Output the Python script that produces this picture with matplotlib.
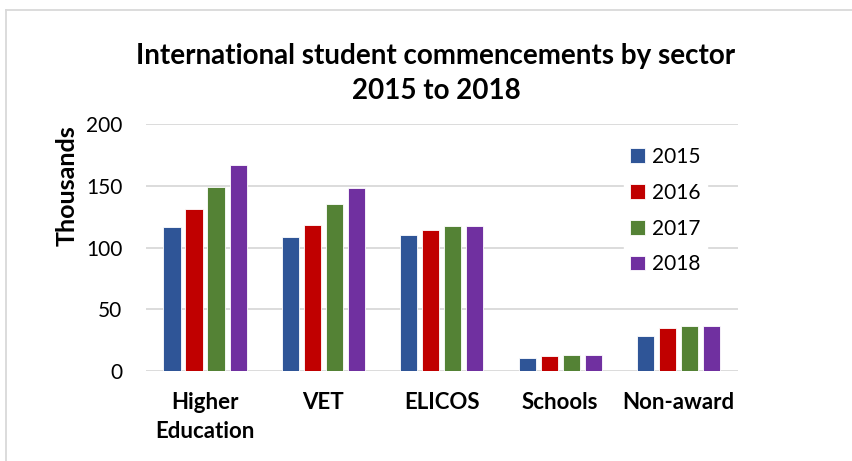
import numpy as np
import matplotlib
matplotlib.use("Agg")
import matplotlib.pyplot as plt
from matplotlib.lines import Line2D

plt.rcParams['font.family'] = ['Lato', 'DejaVu Sans']

categories = ["Higher\nEducation", "VET", "ELICOS", "Schools", "Non-award"]
years = ["2015", "2016", "2017", "2018"]
v2015 = [116.4, 108.5, 110.1, 10.5, 28.6]
v2016 = [130.9, 118.0, 114.2, 12.1, 34.5]
v2017 = [148.7, 135.5, 117.2, 13.0, 36.4]
v2018 = [166.6, 147.9, 117.2, 12.7, 36.4]
colors = ["#2F5597", "#C00000", "#548235", "#7030A0"]

fig = plt.figure(figsize=(8.53, 4.61), dpi=100)
ax = fig.add_axes([0.171, 0.195, 0.694, 0.536])

x = np.arange(len(categories))
w = 0.145
step = 0.186
series = [v2015, v2016, v2017, v2018]
for i, vals in enumerate(series):
    ax.bar(x + (i - 1.5) * step, vals, width=w, color=colors[i],
           edgecolor="white", linewidth=0.6, label=years[i], zorder=3)

ax.set_xlim(-0.5, 4.5)
ax.set_ylim(0, 200)
ax.set_yticks([0, 50, 100, 150, 200])
ax.yaxis.grid(True, color="#D9D9D9", linewidth=1.3, zorder=0)
for s in ax.spines.values():
    s.set_visible(False)
ax.tick_params(axis="both", length=0)
ax.tick_params(axis="y", labelsize=15, pad=17)
ax.set_xticks(x)
ax.set_xticklabels(categories, fontsize=16, fontweight="bold", linespacing=1.45)
ax.tick_params(axis="x", pad=15)
ax.set_ylabel("Thousands", fontsize=18, fontweight="bold")
ax.yaxis.set_label_coords(-0.114, 0.752)

fig.text(0.511, 0.84, "International student commencements by sector\n2015 to 2018",
         ha="center", va="center", fontsize=20, fontweight="bold", linespacing=1.42)

leg = ax.legend(loc="upper left", bbox_to_anchor=(0.79, 0.975), frameon=True,
                fontsize=15, handlelength=0.7, handleheight=0.7,
                labelspacing=0.76, handletextpad=0.35, borderpad=0.3)
leg.get_frame().set_edgecolor("white")
leg.get_frame().set_facecolor("white")
leg.get_frame().set_alpha(1)

# chart border: only top and left edges are visible in the crop
fig.lines.append(Line2D([0.007, 1.0], [0.978, 0.978], transform=fig.transFigure,
                        color="#D9D9D9", linewidth=1.3))
fig.lines.append(Line2D([0.007, 0.007], [0.0, 0.978], transform=fig.transFigure,
                        color="#D9D9D9", linewidth=1.3))

fig.savefig("out.png", dpi=100)
